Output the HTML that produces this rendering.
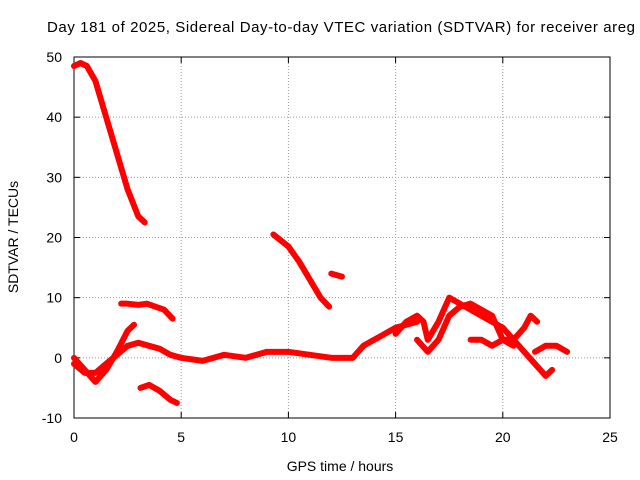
<!DOCTYPE html>
<html><head><meta charset="utf-8"><style>
body{margin:0;background:#fff;}
svg{display:block;font-family:"Liberation Sans",sans-serif;}
</style></head><body>
<svg width="640" height="480">
<g id="grid"></g>
<rect x="74" y="57" width="536" height="361" fill="none" stroke="#000" stroke-width="1"/>
<g id="ticks"></g>
<g id="series"></g>
<text x="47" y="32" font-size="15" textLength="588" lengthAdjust="spacing">Day 181 of 2025, Sidereal Day-to-day VTEC variation (SDTVAR) for receiver areg</text>
<text x="340" y="471" font-size="14" text-anchor="middle">GPS time / hours</text>
<text x="18" y="237" font-size="14" text-anchor="middle" transform="rotate(-90 18 237)">SDTVAR / TECUs</text>
</svg>
<script>
const xTicks=[0,5,10,15,20,25];
const yTicks=[-10,0,10,20,30,40,50];
const trackA=[[0,48.5],[0.3,49],[0.6,48.5],[1,46],[1.5,40],[2,34],[2.5,28],[3,23.5],[3.3,22.5]];
const trackB=[[9.3,20.5],[10,18.5],[10.5,16],[11,13],[11.5,10],[11.9,8.5]];
const trackC=[[12,14],[12.5,13.5]];
const trackD=[[2.2,9],[2.5,9],[3,8.8],[3.4,9],[3.8,8.5],[4.2,8],[4.6,6.5]];
const trackE=[[3.1,-5],[3.5,-4.5],[4,-5.5],[4.5,-7],[4.8,-7.5]];
const trackF=[[0,0],[0.5,-2],[1,-4],[1.5,-2],[2,1],[2.5,4.5],[2.8,5.5]];
const trackG=[[0,-1],[0.5,-2.5],[1,-2.5],[1.5,-1],[2,0.5],[2.5,2],[3,2.5],[3.5,2],[4,1.5],[4.5,0.5],[5,0],[6,-0.5],[7,0.5],[8,0],[9,1],[10,1],[11,0.5],[12,0],[13,0],[13.5,2],[14,3],[15,5],[16,6]];
const trackH=[[15,4],[15.5,6],[16,7],[16.3,6],[16.5,3],[17,6],[17.5,10],[18,9],[19,7],[20,5],[20.5,3],[21,1],[21.5,-1],[22,-3],[22.3,-2]];
const trackI=[[16,3],[16.5,1],[17,3],[17.5,7],[18,8.5],[18.5,9],[19,8],[19.5,7],[20,3],[20.5,3],[21,5],[21.3,7],[21.6,6]];
const trackJ=[[18.5,3],[19,3],[19.5,2],[20,3],[20.5,2]];
const trackK=[[21.5,1],[22,2],[22.5,2],[23,1]];
const tracks=[trackA,trackB,trackC,trackD,trackE,trackF,trackG,trackH,trackI,trackJ,trackK];
const NS="http://www.w3.org/2000/svg";
const X=v=>74+v*(536/25), Y=v=>418-(v+10)*(361/60);
const grid=document.getElementById('grid'),ticks=document.getElementById('ticks'),ser=document.getElementById('series');
function mk(tag,attrs,parent){const e=document.createElementNS(NS,tag);for(const k in attrs)e.setAttribute(k,attrs[k]);parent.appendChild(e);return e;}
xTicks.forEach(t=>{const x=X(t);
 if(t>0&&t<25){const g=mk('line',{x1:x,x2:x,y1:57,y2:418,stroke:'#999','stroke-dasharray':'1,2'},grid);
 
 }
 mk('line',{x1:x,x2:x,y1:418,y2:412,stroke:'#000'},ticks);mk('line',{x1:x,x2:x,y1:57,y2:63,stroke:'#000'},ticks);
 const l=mk('text',{x:x,y:442,'font-size':14,'text-anchor':'middle'},ticks);l.textContent=t;
 
 });
yTicks.forEach(t=>{const y=Y(t);
 if(t>-10&&t<50){const g=mk('line',{x1:74,x2:610,y1:y,y2:y,stroke:'#999','stroke-dasharray':'1,2'},grid);
 
 }
 mk('line',{x1:74,x2:80,y1:y,y2:y,stroke:'#000'},ticks);mk('line',{x1:604,x2:610,y1:y,y2:y,stroke:'#000'},ticks);
 const l=mk('text',{x:62,y:y+5,'font-size':14,'text-anchor':'end'},ticks);l.textContent=t;
 
 });
tracks.forEach(tr=>{const p=mk('polyline',{points:tr.map(d=>X(d[0])+','+Y(d[1])).join(' '),fill:'none',stroke:'#f00','stroke-width':6,'stroke-linejoin':'round','stroke-linecap':'round'},ser);
 
 });
</script>
</body></html>
